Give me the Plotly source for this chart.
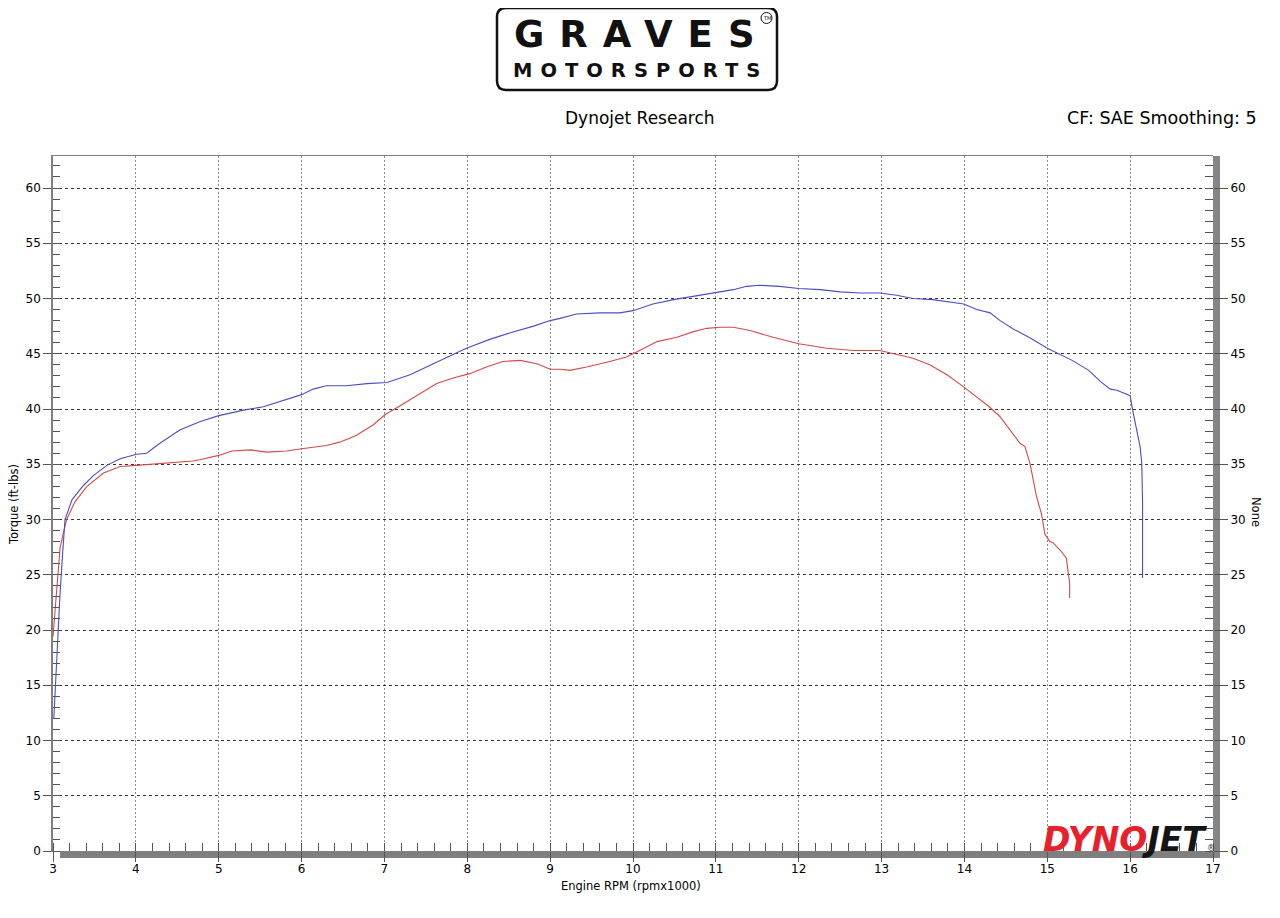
import plotly.graph_objects as go

# ---------------- data ----------------
blue_rpm = [3.01, 3.045, 3.085, 3.117, 3.145, 3.23, 3.37, 3.49, 3.65, 3.81, 4.01, 4.13, 4.29, 4.53,
            4.77, 5.0, 5.3, 5.54, 5.78, 6.0, 6.14, 6.3, 6.54, 6.79, 7.03, 7.31, 7.59, 7.83, 7.99,
            8.27, 8.52, 8.8, 9.0, 9.12, 9.32, 9.6, 9.84, 10.0, 10.24, 10.49, 10.73, 10.99, 11.21,
            11.37, 11.53, 11.77, 12.0, 12.26, 12.5, 12.74, 12.98, 13.18, 13.38, 13.62, 13.79,
            13.99, 14.15, 14.31, 14.43, 14.6, 14.8, 15.0, 15.3, 15.5, 15.64, 15.76, 15.84, 15.96,
            16.0, 16.03, 16.07, 16.12, 16.14, 16.15, 16.15]
blue_tq = [12.0, 17.9, 23.3, 27.0, 30.0, 31.8, 33.1, 34.0, 34.9, 35.5, 35.9, 36.0, 36.9, 38.1,
           38.85, 39.4, 39.9, 40.2, 40.8, 41.3, 41.8, 42.1, 42.1, 42.3, 42.4, 43.1, 44.1, 44.9, 45.5,
           46.3, 46.9, 47.5, 48.0, 48.2, 48.6, 48.7, 48.7, 48.9, 49.5, 49.9, 50.2, 50.5, 50.8,
           51.1, 51.2, 51.1, 50.9, 50.8, 50.6, 50.5, 50.5, 50.3, 50.0, 49.9, 49.7,
           49.5, 49.0, 48.7, 48.0, 47.2, 46.4, 45.5, 44.4, 43.5, 42.5, 41.8, 41.7, 41.3,
           41.2, 39.9, 38.4, 36.6, 35.1, 31.5, 24.7]

red_rpm = [3.0, 3.045, 3.085, 3.125, 3.165, 3.265, 3.41, 3.61, 3.81, 4.01, 4.37, 4.69, 4.77, 5.0,
           5.16, 5.38, 5.58, 5.82, 6.0, 6.3, 6.46, 6.66, 6.87, 7.01, 7.19, 7.43, 7.63, 7.83, 8.03,
           8.23, 8.43, 8.64, 8.84, 9.0, 9.12, 9.24, 9.44, 9.72, 9.92, 10.08, 10.29, 10.53, 10.73,
           10.89, 11.05, 11.21, 11.41, 11.69, 12.0, 12.34, 12.66, 12.98, 13.22, 13.38, 13.58,
           13.79, 13.99, 14.17, 14.3, 14.43, 14.55, 14.67, 14.73, 14.79, 14.87, 14.93, 14.97,
           15.03, 15.07, 15.17, 15.23, 15.25, 15.27, 15.27]
red_tq = [19.4, 23.9, 27.4, 28.8, 30.0, 31.6, 33.0, 34.2, 34.8, 34.9, 35.1, 35.3, 35.4, 35.8,
          36.2, 36.3, 36.1, 36.2, 36.4, 36.7, 37.0, 37.6, 38.6, 39.5, 40.3, 41.4, 42.3, 42.8, 43.2,
          43.8, 44.3, 44.4, 44.1, 43.6, 43.6, 43.5, 43.8, 44.3, 44.7, 45.3, 46.1, 46.5, 47.0,
          47.3, 47.4, 47.4, 47.1, 46.5, 45.9, 45.5, 45.3, 45.3, 44.9, 44.6, 44.0,
          43.1, 42.0, 41.0, 40.2, 39.3, 38.1, 36.9, 36.6, 35.1, 32.1, 30.5, 28.7,
          28.0, 27.9, 27.1, 26.5, 25.1, 24.2, 22.9]

x_ticks = list(range(3, 18))
y_ticks = list(range(0, 61, 5))

title_center = "Dynojet Research"
title_right = "CF: SAE Smoothing: 5"
x_title = "Engine RPM (rpmx1000)"
y_title = "Torque (ft-lbs)"
y2_title = "None"
logo_top = "GRAVES"
logo_bottom = "MOTORSPORTS"

# ---------------- layout helpers (page pixels -> paper) ----------------
O = 8                       # default page body margin
W, H = 1280 - 2 * O, 918 - 2 * O
L, R, T, B = 53, 1213, 156, 851   # plot area in page pixels
def px(x):
    return (x - L) / (R - L)
def py(y):
    return (B - y) / (B - T)

FONT = "DejaVu Sans"
BLUE = "#4c4cc8"
RED = "#d24a4a"

yr = [0, (B - T) / 11.05]

fig = go.Figure()
fig.add_trace(go.Scatter(x=red_rpm, y=red_tq, mode="lines",
                         line=dict(color=RED, width=1.1), showlegend=False, hoverinfo="skip"))
fig.add_trace(go.Scatter(x=blue_rpm, y=blue_tq, mode="lines", yaxis="y2",
                         line=dict(color=BLUE, width=1.1), showlegend=False, hoverinfo="skip"))

fig.update_layout(
    width=W, height=H,
    margin=dict(l=L - O, r=(W + O) - R, t=T - O, b=(H + O) - B, pad=0),
    paper_bgcolor="white", plot_bgcolor="white",
    font=dict(family=FONT, size=12, color="#000"),
    showlegend=False,
    xaxis=dict(range=[3, 17], tickvals=x_ticks, ticktext=[str(v) for v in x_ticks],
               ticks="outside", ticklen=10, tickcolor="#555", tickwidth=1,
               ticklabelstandoff=-3,
               showgrid=True, gridcolor="#8a8a8a", griddash="2px,2px", gridwidth=1,
               showline=True, linecolor="#808080", linewidth=1, mirror=True,
               zeroline=False, tickfont=dict(size=12),
               minor=dict(ticks="inside", ticklen=8, dtick=0.2, tickcolor="#555", showgrid=False)),
    yaxis=dict(range=yr, tickvals=y_ticks, ticktext=[str(v) for v in y_ticks],
               ticks="outside", ticklen=8, tickcolor="#555", tickwidth=1,
               showgrid=True, gridcolor="#333", griddash="3px,3px", gridwidth=1,
               showline=True, linecolor="#808080", linewidth=1.5,
               zeroline=False, tickfont=dict(size=12),
               minor=dict(ticks="inside", ticklen=7, dtick=1, tickcolor="#555", showgrid=False)),
    yaxis2=dict(range=yr, tickvals=y_ticks, ticktext=[str(v) for v in y_ticks],
                overlaying="y", side="right", anchor="x",
                ticks="outside", ticklen=14, tickcolor="#555", tickwidth=1,
                showgrid=False, showline=False, zeroline=False, tickfont=dict(size=12),
                minor=dict(ticks="inside", ticklen=8, dtick=1, tickcolor="#555", showgrid=False)),
)

shapes = []
# grey scroll-bar-like bands
shapes.append(dict(type="rect", xref="paper", yref="paper",
                   x0=px(60), x1=px(1220), y0=py(858), y1=py(851),
                   fillcolor="#7f7f7f", line=dict(width=0), layer="below"))
shapes.append(dict(type="rect", xref="paper", yref="paper",
                   x0=px(1213), x1=px(1220), y0=py(858), y1=py(156),
                   fillcolor="#858585", line=dict(width=0), layer="below"))

# logo rounded box
x0, x1, y0, y1, r = 497, 777, 8, 90, 9
def P(x, y):
    return f"{px(x):.6f},{py(y):.6f}"
path = (f"M {P(x0 + r, y0)} L {P(x1 - r, y0)} Q {P(x1, y0)} {P(x1, y0 + r)} "
        f"L {P(x1, y1 - r)} Q {P(x1, y1)} {P(x1 - r, y1)} "
        f"L {P(x0 + r, y1)} Q {P(x0, y1)} {P(x0, y1 - r)} "
        f"L {P(x0, y0 + r)} Q {P(x0, y0)} {P(x0 + r, y0)} Z")
shapes.append(dict(type="path", xref="paper", yref="paper", path=path,
                   line=dict(color="#111", width=2.5), fillcolor="white"))
# TM circle
shapes.append(dict(type="circle", xref="paper", yref="paper",
                   x0=px(761), x1=px(772), y0=py(23.5), y1=py(12.5),
                   line=dict(color="#111", width=1)))

fig.update_layout(shapes=shapes)

ann = []
def text(x, y, s, size, xanchor="center", angle=0, color="#000", family=FONT, yanchor="middle", pad=1):
    ann.append(dict(x=px(x), y=py(y), xref="paper", yref="paper", text=s, showarrow=False,
                    xanchor=xanchor, yanchor=yanchor, textangle=angle, borderpad=pad,
                    font=dict(size=size, color=color, family=family)))

text(640, 118, title_center, 17)
text(1259, 118, title_right, 17.5, xanchor="right")
text(631, 886, x_title, 11.5)
text(14, 505, y_title, 11.5, angle=-90)
text(1256, 512, y2_title, 11.5, angle=90)

# logo words (letter-spaced to the logo's wide lettering; no spacing after the last letter)
def spaced(word, ls):
    return f"<b><span style='letter-spacing:{ls}px'>{word[:-1]}</span>{word[-1]}</b>"
text(635, 57, spaced(logo_top, 15), 37, color="#111", yanchor="bottom", pad=0)
text(636, 58, spaced(logo_bottom, 8), 19.5, color="#111", yanchor="top", pad=0)
text(766.5, 18, "TM", 5, color="#111")

# Dynojet logo
ann.append(dict(x=px(1209), y=py(839), xref="paper", yref="paper", showarrow=False,
                xanchor="right", yanchor="middle",
                text="<b><i><span style='color:#e8202a'>DYNO</span><span style='color:#151515'>JET</span></i></b>",
                font=dict(size=33, family=FONT)))
text(1211, 848, "®", 8, color="#333")

fig.update_layout(annotations=ann)

fig.write_html("out.html")
